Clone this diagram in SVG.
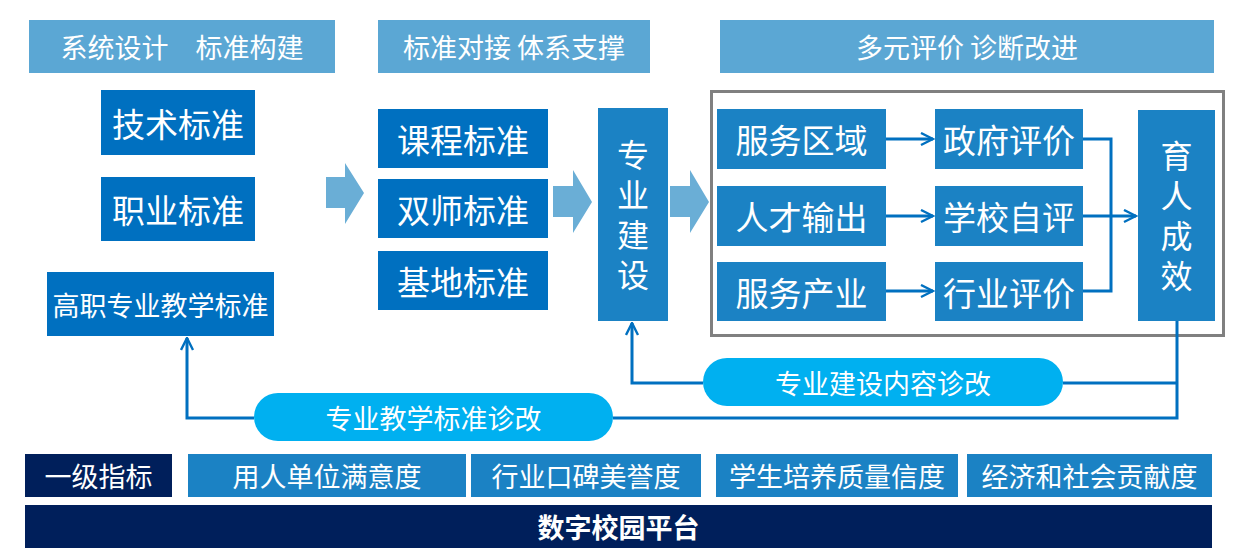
<svg xmlns="http://www.w3.org/2000/svg" width="1242" height="559" viewBox="0 0 1242 559">
<defs>
<style>
text{font-family:"Noto Sans CJK SC","Microsoft YaHei",sans-serif;fill:#fff;text-anchor:middle;dominant-baseline:central}
.hd{fill:#5BA7D4}
.std{fill:#0070C0}
.ev{fill:#1B82C4}
.navy{fill:#001F5B}
.pill{fill:#00B0F0}
.blk{fill:#6AAED6}
.ln{fill:none;stroke:#0070C0;stroke-width:3}
.t25{font-size:27px}
.t30{font-size:33px}
.t26{font-size:27px}
.vt{font-size:32px;writing-mode:vertical-rl;letter-spacing:8px}
</style>
<marker id="ah" viewBox="0 0 10 10" refX="9" refY="5" markerWidth="5" markerHeight="5" orient="auto" markerUnits="strokeWidth">
<path d="M1,1 L9,5 L1,9" fill="none" stroke="#0070C0" stroke-width="1.6"/>
</marker>
</defs>
<rect width="1242" height="559" fill="#fff"/>

<g id="header1"><rect class="hd" x="29" y="20" width="306" height="53"/><text class="t25" x="182" y="46.5">系统设计　标准构建</text></g>
<g id="header2"><rect class="hd" x="378" y="20" width="272" height="53"/><text class="t25" x="514" y="46.5">标准对接 体系支撑</text></g>
<g id="header3"><rect class="hd" x="720" y="20" width="494" height="53"/><text class="t25" x="967" y="46.5">多元评价 诊断改进</text></g>

<g id="n-jishu"><rect class="std" x="101" y="90" width="154" height="65"/><text class="t30" x="178" y="122.5">技术标准</text></g>
<g id="n-zhiye"><rect class="std" x="101" y="177" width="154" height="64"/><text class="t30" x="178" y="209">职业标准</text></g>
<g id="n-gaozhi"><rect class="std" x="47" y="272" width="227" height="64"/><text x="160.5" y="304" font-size="27">高职专业教学标准</text></g>

<g id="n-kecheng"><rect class="std" x="378" y="109" width="170" height="59"/><text class="t30" x="463" y="138.5">课程标准</text></g>
<g id="n-shuangshi"><rect class="std" x="378" y="179" width="170" height="59"/><text class="t30" x="463" y="208.5">双师标准</text></g>
<g id="n-jidi"><rect class="std" x="378" y="251" width="170" height="59"/><text class="t30" x="463" y="280.5">基地标准</text></g>

<g id="n-zhuanye"><rect class="ev" x="598" y="108" width="70" height="213"/>
<text class="vt" x="633" y="219">专业建设</text></g>

<g id="frame"><rect x="711.5" y="91.5" width="512" height="244" fill="none" stroke="#808080" stroke-width="3"/></g>

<g id="n-fwqy"><rect class="ev" x="717" y="109" width="169" height="60"/><text class="t30" x="801.5" y="139">服务区域</text></g>
<g id="n-rcsc"><rect class="ev" x="717" y="186" width="169" height="60"/><text class="t30" x="801.5" y="216">人才输出</text></g>
<g id="n-fwcy"><rect class="ev" x="717" y="262" width="169" height="59"/><text class="t30" x="801.5" y="291.5">服务产业</text></g>

<g id="n-zfpj"><rect class="ev" x="935" y="109" width="148" height="60"/><text class="t30" x="1009" y="139">政府评价</text></g>
<g id="n-xxzp"><rect class="ev" x="935" y="186" width="148" height="60"/><text class="t30" x="1009" y="216">学校自评</text></g>
<g id="n-hypj"><rect class="ev" x="935" y="262" width="148" height="59"/><text class="t30" x="1009" y="291.5">行业评价</text></g>

<g id="n-yuren"><rect class="ev" x="1138" y="110" width="77" height="211"/>
<text class="vt" x="1176.5" y="220">育人成效</text></g>

<g id="pill1"><rect class="pill" x="254" y="393" width="359" height="48" rx="24"/><text class="t25" x="433.5" y="417">专业教学标准诊改</text></g>
<g id="pill2"><rect class="pill" x="703" y="358" width="360" height="48" rx="24"/><text class="t25" x="883" y="382">专业建设内容诊改</text></g>

<g id="connectors">
<polygon class="blk" points="326,177 345,177 345,163 364,193 345,224 345,208 326,208"/>
<polygon class="blk" points="553,186 573,186 573,170 592,202 573,233 573,217 553,217"/>
<polygon class="blk" points="670,186 690,186 690,170 709,202 690,233 690,217 670,217"/>
<line class="ln" x1="886" y1="139" x2="933" y2="139" marker-end="url(#ah)"/>
<line class="ln" x1="886" y1="216" x2="933" y2="216" marker-end="url(#ah)"/>
<line class="ln" x1="886" y1="291" x2="933" y2="291" marker-end="url(#ah)"/>
<polyline class="ln" points="1083,139 1111,139 1111,291 1083,291"/>
<line class="ln" x1="1083" y1="216" x2="1136" y2="216" marker-end="url(#ah)"/>
<polyline class="ln" points="1177,321 1177,418 613,418"/>
<line class="ln" x1="1177" y1="383" x2="1063" y2="383"/>
<polyline class="ln" points="703,383 632,383 632,323" marker-end="url(#ah)"/>
<polyline class="ln" points="254,418 187,418 187,338" marker-end="url(#ah)"/>
</g>

<g id="r-yiji"><rect class="navy" x="25" y="454" width="147" height="43"/><text class="t26" x="98.5" y="475.5">一级指标</text></g>
<g id="r-yongren"><rect class="ev" x="188" y="454" width="278" height="43"/><text class="t26" x="327" y="475.5">用人单位满意度</text></g>
<g id="r-hangye"><rect class="ev" x="471" y="454" width="230" height="43"/><text class="t26" x="586" y="475.5">行业口碑美誉度</text></g>
<g id="r-xuesheng"><rect class="ev" x="716" y="454" width="242" height="43"/><text class="t26" x="837" y="475.5">学生培养质量信度</text></g>
<g id="r-jingji"><rect class="ev" x="967" y="454" width="245" height="43"/><text class="t26" x="1089.5" y="475.5">经济和社会贡献度</text></g>
<g id="platform"><rect class="navy" x="25" y="505" width="1187" height="43"/><text class="t26" x="618.5" y="526.5" font-weight="bold">数字校园平台</text></g>
</svg>
